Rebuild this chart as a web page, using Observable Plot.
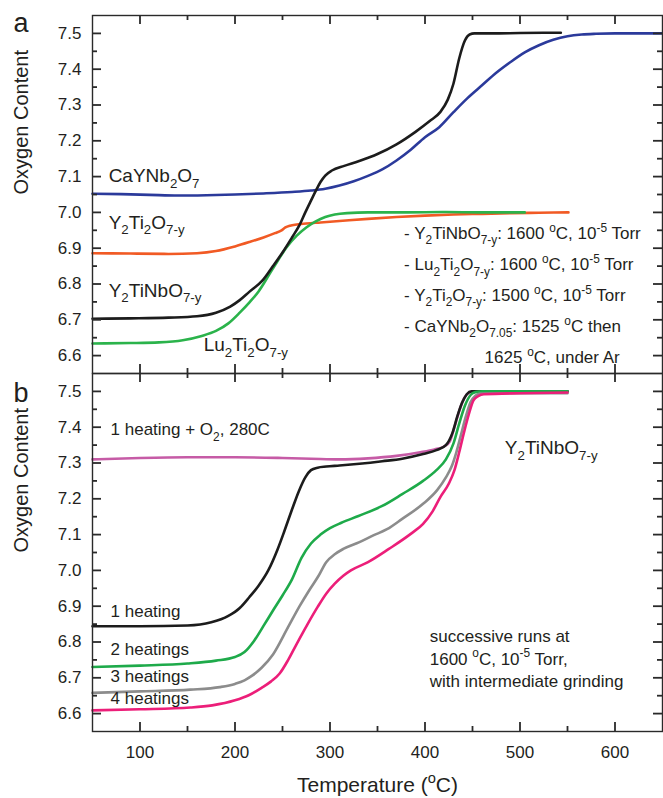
<!DOCTYPE html>
<html><head><meta charset="utf-8">
<script src="https://cdn.jsdelivr.net/npm/d3@7"></script>
<script src="https://cdn.jsdelivr.net/npm/@observablehq/plot@0.6"></script>
<style>
body{margin:0;background:#fff;}
#chart{width:663px;height:798px;}
</style></head><body><div id="chart"></div>
<script>
// ---------- DATA (Temperature in °C, oxygen content) ----------
// Panel a
const aBlueT  = [50,80,110,140,170,200,230,260,280,295,310,325,340,355,370,385,400,415,430,445,460,475,490,505,520,535,550,565,580,600,625,650];
const aBlueV  = [7.052,7.051,7.049,7.047,7.048,7.050,7.053,7.057,7.061,7.066,7.075,7.087,7.102,7.120,7.145,7.175,7.210,7.238,7.280,7.320,7.355,7.390,7.420,7.447,7.467,7.482,7.492,7.497,7.499,7.500,7.500,7.500];
const aOrangeT = [50,90,130,160,180,200,215,230,242,249,253,258,265,275,290,310,340,370,400,430,460,490,520,551];
const aOrangeV = [6.886,6.885,6.884,6.886,6.892,6.905,6.917,6.930,6.942,6.950,6.958,6.963,6.966,6.969,6.972,6.976,6.982,6.987,6.991,6.994,6.996,6.998,6.999,7.000];
const aGreenT = [50,90,120,145,165,180,193,205,215,225,235,245,255,265,275,285,295,305,318,340,380,420,460,505];
const aGreenV = [6.634,6.635,6.637,6.643,6.655,6.669,6.690,6.720,6.748,6.780,6.822,6.865,6.905,6.935,6.958,6.975,6.987,6.994,6.998,7.000,7.000,7.001,7.000,7.000];
const aBlackT = [50,90,130,160,180,195,205,215,229,240,250,260,268,274,280,285,290,295,302,315,330,350,370,390,405,416,424,430,436,442,447,452,470,500,543];
const aBlackV = [6.703,6.704,6.706,6.710,6.720,6.737,6.755,6.778,6.810,6.850,6.888,6.930,6.965,7.000,7.033,7.060,7.085,7.103,7.117,7.130,7.143,7.163,7.190,7.225,7.255,7.280,7.315,7.360,7.430,7.480,7.497,7.500,7.500,7.501,7.502];
// Panel b
const bPurpleT = [50,100,150,200,250,280,310,340,370,395,410,420,426,431,436,441,446,452,480,520,550];
const bPurpleV = [7.310,7.314,7.316,7.316,7.314,7.312,7.310,7.313,7.320,7.330,7.338,7.346,7.360,7.400,7.445,7.480,7.496,7.500,7.500,7.500,7.500];
const bBlackT = [50,100,150,175,193,205,215,225,235,245,252,260,267,274,280,287,296,310,331,355,376,398,412,422,429,434,439,444,449,460,500,550];
const bBlackV = [6.844,6.844,6.846,6.855,6.873,6.895,6.925,6.958,7.000,7.060,7.110,7.170,7.220,7.260,7.280,7.287,7.290,7.293,7.298,7.305,7.312,7.325,7.336,7.350,7.385,7.430,7.468,7.492,7.500,7.500,7.500,7.500];
const bGreenT = [50,100,150,180,200,210,220,230,240,250,260,270,280,290,300,312,330,355,376,398,412,422,430,436,442,448,453,460,500,550];
const bGreenV = [6.730,6.734,6.740,6.748,6.758,6.772,6.803,6.845,6.888,6.930,6.975,7.035,7.075,7.100,7.118,7.133,7.152,7.180,7.213,7.250,7.280,7.310,7.355,7.410,7.460,7.490,7.498,7.500,7.500,7.500];
const bGrayT = [50,100,153,184,200,210,218,228,240,256,268,278,288,296,305,314,331,345,360,376,398,413,422,428,433,438,443,448,453,458,500,550];
const bGrayV = [6.658,6.662,6.667,6.674,6.683,6.693,6.706,6.728,6.765,6.842,6.900,6.944,6.985,7.023,7.045,7.060,7.079,7.097,7.115,7.144,7.186,7.225,7.260,7.290,7.330,7.380,7.430,7.470,7.488,7.494,7.495,7.495];
const bPinkT = [50,100,153,176,200,215,228,238,247,256,265,276,287,296,305,314,322,340,362,385,398,408,416,425,431,436,441,446,451,456,462,500,550];
const bPinkV = [6.609,6.612,6.617,6.623,6.637,6.652,6.672,6.690,6.712,6.750,6.795,6.848,6.898,6.935,6.963,6.985,7.000,7.023,7.060,7.102,7.130,7.165,7.204,7.242,7.280,7.330,7.385,7.435,7.475,7.487,7.492,7.495,7.497];

const seriesKeys  = ["aBlue","aOrange","aGreen","aBlack","bPurple","bBlack","bGreen","bGray","bPink"];
const seriesPanel = ["a","a","a","a","b","b","b","b","b"];
const seriesT = [aBlueT,aOrangeT,aGreenT,aBlackT,bPurpleT,bBlackT,bGreenT,bGrayT,bPinkT];
const seriesV = [aBlueV,aOrangeV,aGreenV,aBlackV,bPurpleV,bBlackV,bGreenV,bGrayV,bPinkV];

// Tick values
const xMajor = [100,200,300,400,500,600];
const xMinor = [150,250,350,450,550];
const yMajor = [6.6,6.7,6.8,6.9,7.0,7.1,7.2,7.3,7.4,7.5];
const yMinor = [6.65,6.75,6.85,6.95,7.05,7.15,7.25,7.35,7.45];

// Annotation texts (data coordinates)
const formulaLabels = [
  {panel:"a", T:67,  v:7.085, s:"CaYNb_{2}O_{7}"},
  {panel:"a", T:67,  v:6.955, s:"Y_{2}Ti_{2}O_{7-y}"},
  {panel:"a", T:67,  v:6.765, s:"Y_{2}TiNbO_{7-y}"},
  {panel:"a", T:167, v:6.612, s:"Lu_{2}Ti_{2}O_{7-y}"},
  {panel:"b", T:484, v:7.325, s:"Y_{2}TiNbO_{7-y}"}
];
const runLabels = [
  {panel:"b", T:69,  v:7.377, s:"1 heating + O_{2}, 280C"},
  {panel:"b", T:69,  v:6.871, s:"1 heating"},
  {panel:"b", T:69,  v:6.765, s:"2 heatings"},
  {panel:"b", T:69,  v:6.687, s:"3 heatings"},
  {panel:"b", T:69,  v:6.628, s:"4 heatings"}
];
const noteLeft = [
  {panel:"a", T:378, v:6.925, s:"- Y_{2}TiNbO_{7-y}: 1600 ^{o}C, 10^{-5} Torr"},
  {panel:"a", T:378, v:6.838, s:"- Lu_{2}Ti_{2}O_{7-y}: 1600 ^{o}C, 10^{-5} Torr"},
  {panel:"a", T:378, v:6.752, s:"- Y_{2}Ti_{2}O_{7-y}: 1500 ^{o}C, 10^{-5} Torr"},
  {panel:"a", T:378, v:6.665, s:"- CaYNb_{2}O_{7.05}: 1525 ^{o}C then"},
  {panel:"b", T:405, v:6.801, s:"successive runs at"},
  {panel:"b", T:405, v:6.737, s:"1600 ^{o}C, 10^{-5} Torr,"},
  {panel:"b", T:405, v:6.673, s:"with intermediate grinding"}
];
const noteRight = [
  {panel:"a", T:605, v:6.578, s:"1625 ^{o}C, under Ar"}
];

// ---------- STYLE ----------
const seriesColors = ["#2b3a9b","#f15a24","#2bb34b","#1c1c1c","#c65ba6","#1c1c1c","#1eaa4a","#8c8c8c","#ec1e79"];
const ink = "#231f20";
const axisInk = "#2a2a2a";
const frameW = 570, frameH = 358;      // panel frame size in px
const majorLen = 9, minorLen = 5;      // tick lengths in px
const xLo = 50, xHi = 650, yLo = 6.55, yHi = 7.55;

const rows = seriesKeys.flatMap((k, i) => seriesT[i].map((t, j) => ({key:k, panel:seriesPanel[i], T:t, v:seriesV[i][j]})));
const tickStyle = {stroke: axisInk, strokeWidth: 1.8};
// inward ticks on all four sides of each panel
const xTicks = (vals, len) => [
  Plot.tickX(vals, {x: d => d, insetTop: frameH - len, ...tickStyle}),
  Plot.tickX(vals, {x: d => d, insetBottom: frameH - len, ...tickStyle})
];
const yTicks = (vals, len) => [
  Plot.tickY(vals, {y: d => d, insetRight: frameW - len, ...tickStyle}),
  Plot.tickY(vals, {y: d => d, insetLeft: frameW - len, ...tickStyle})
];

const chart = Plot.plot({
  width: 663, height: 798,
  marginTop: 15, marginBottom: 67, marginLeft: 92, marginRight: 1,
  x: {domain: [xLo, xHi], axis: null},
  y: {domain: [yLo, yHi], axis: null},
  fy: {domain: ["a", "b"], axis: null, padding: 0},
  color: {domain: seriesKeys, range: seriesColors},
  style: {fontFamily: "'Liberation Sans', Arial, sans-serif", color: ink, background: "white", overflow: "visible"},
  marks: [
    Plot.line(rows, {x: "T", y: "v", z: "key", stroke: "key", fy: "panel", strokeWidth: 2.6, curve: "monotone-x"}),
    Plot.frame({stroke: axisInk, strokeWidth: 1.4}),
    ...xTicks(xMajor, majorLen), ...xTicks(xMinor, minorLen),
    ...yTicks(yMajor, majorLen), ...yTicks(yMinor, minorLen),
    Plot.axisY({ticks: yMajor, tickSize: 0, tickPadding: 11, tickFormat: d => d.toFixed(1), fontSize: 17, label: null, fill: ink}),
    Plot.axisX({ticks: xMajor, anchor: "bottom", tickSize: 0, tickPadding: 14, fontSize: 17, label: null, fill: ink}),
    Plot.text(["Oxygen Content"], {frameAnchor: "left", dx: -71, rotate: -90, fontSize: 20, fill: ink}),
    Plot.text(["Temperature (^{o}C)"], {fy: ["b"], frameAnchor: "bottom", dy: 60, lineAnchor: "bottom", fontSize: 21, fill: ink}),
    Plot.text(["a"], {fy: ["a"], frameAnchor: "top-left", dx: -79, dy: 16, lineAnchor: "bottom", textAnchor: "start", fontSize: 27, fill: ink}),
    Plot.text(["b"], {fy: ["b"], frameAnchor: "top-left", dx: -79, dy: 28, lineAnchor: "bottom", textAnchor: "start", fontSize: 27, fill: ink}),
    Plot.text(formulaLabels, {x: "T", y: "v", text: "s", fy: "panel", textAnchor: "start", lineAnchor: "bottom", fontSize: 19, fill: ink}),
    Plot.text(runLabels, {x: "T", y: "v", text: "s", fy: "panel", textAnchor: "start", lineAnchor: "bottom", fontSize: 17, fill: ink}),
    Plot.text(noteLeft, {x: "T", y: "v", text: "s", fy: "panel", textAnchor: "start", lineAnchor: "bottom", fontSize: 17, fill: ink}),
    Plot.text(noteRight, {x: "T", y: "v", text: "s", fy: "panel", textAnchor: "end", lineAnchor: "bottom", fontSize: 17, fill: ink})
  ]
});
document.getElementById("chart").appendChild(chart);

// rich text: _{sub} and ^{sup}
function richText(svg) {
  svg.querySelectorAll("text").forEach(t => {
    const s = t.textContent;
    if (!/[_^]\{/.test(s)) return;
    const fs = parseFloat(getComputedStyle(t).fontSize) || 16;
    while (t.firstChild) t.removeChild(t.firstChild);
    const parts = s.split(/([_^]\{[^}]*\})/).filter(p => p !== "");
    let shift = 0;
    for (const p of parts) {
      const ts = document.createElementNS("http://www.w3.org/2000/svg", "tspan");
      let target = 0, txt = p, small = false;
      if (p.startsWith("_{")) { target = 0.3 * fs; txt = p.slice(2, -1); small = true; }
      else if (p.startsWith("^{")) { target = -0.42 * fs; txt = p.slice(2, -1); small = true; }
      const dy = target - shift;
      if (dy) ts.setAttribute("dy", dy.toFixed(2));
      if (small) ts.setAttribute("font-size", (0.7 * fs).toFixed(1));
      ts.textContent = txt;
      t.appendChild(ts);
      shift = target;
    }
  });
}
richText(chart);
</script></body></html>
